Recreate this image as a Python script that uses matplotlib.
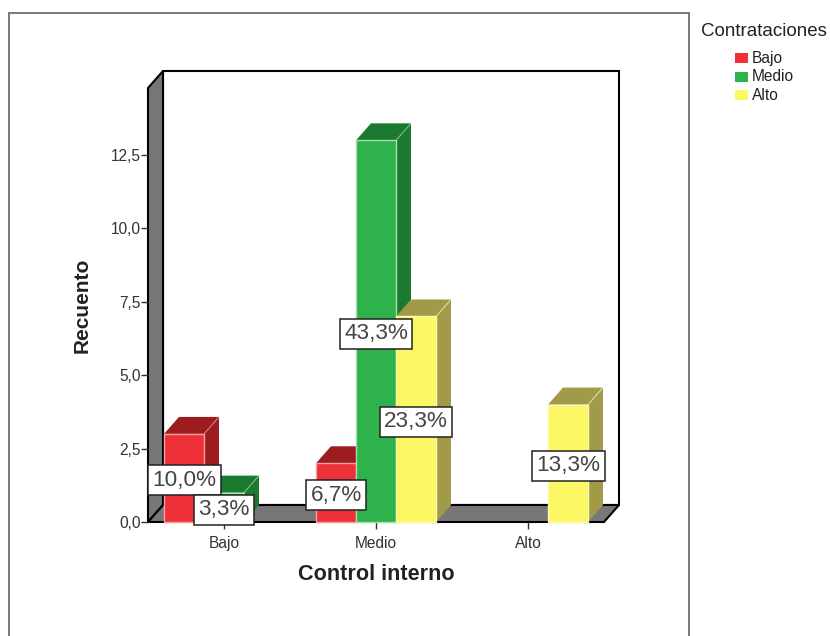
import matplotlib
matplotlib.use('Agg')
import matplotlib.pyplot as plt
from matplotlib.patches import Polygon, Rectangle

plt.rcParams['font.family'] = ['Liberation Sans', 'DejaVu Sans']

W, H = 830, 636

categories = ['Bajo', 'Medio', 'Alto']
series_names = ['Bajo', 'Medio', 'Alto']
bajo_counts = [3, 2, 0]
medio_counts = [1, 13, 0]
alto_counts = [0, 7, 4]
bajo_labels = ['10,0%', '6,7%', '']
medio_labels = ['3,3%', '43,3%', '']
alto_labels = ['', '23,3%', '13,3%']
y_ticks = [0, 2.5, 5, 7.5, 10, 12.5]
y_tick_labels = ['0,0', '2,5', '5,0', '7,5', '10,0', '12,5']

front = ['#EE3039', '#2EB24B', '#FBF765']
side = ['#9C1C20', '#1C7A30', '#A19B49']
top = ['#9C1C20', '#1C7A30', '#A19B49']
edge = ['#F7A0A0', '#A8E0AC', '#FDFBB0']

fig = plt.figure(figsize=(W / 100, H / 100), dpi=100, facecolor='white')
ax = fig.add_axes([148 / W, 1 - 522 / H, 456 / W, 434 / H])
ax.set_xlim(-0.5, 2.5)
ax.set_ylim(0, 434 / 29.36)
ax.patch.set_visible(False)
for s in ax.spines.values():
    s.set_visible(False)

# depth of the fake 3d box, in data units
dx = 15 / 152
dy = 17 / 29.36
ymax = ax.get_ylim()[1]


def poly(pts, fc, ec='none', lw=0, z=1):
    ax.add_patch(Polygon(pts, closed=True, fc=fc, ec=ec, lw=lw, zorder=z,
                         clip_on=False, joinstyle='miter'))


# outer frame, runs off the bottom of the figure
fig.add_artist(Rectangle((9 / W, -0.02), 680 / W, 1 - 13 / H + 0.02, fill=False,
                         ec='#6E6E6E', lw=1.3, transform=fig.transFigure))

# walls and floor
poly([(-0.5 + dx, dy), (-0.5 + dx, ymax + dy), (2.5 + dx, ymax + dy), (2.5 + dx, dy)],
     'white', 'black', 1.5, 1)
poly([(-0.5, 0), (-0.5, ymax), (-0.5 + dx, ymax + dy), (-0.5 + dx, dy)],
     '#777777', 'black', 1.5, 1)
poly([(-0.5, 0), (-0.5 + dx, dy), (2.5 + dx, dy), (2.5, 0)],
     '#777777', 'black', 1.5, 1)

bar_w = 40 / 152
values = [bajo_counts, medio_counts, alto_counts]
labels = [bajo_labels, medio_labels, alto_labels]

z = 2
for c in range(len(categories)):
    for k in range(3):
        v = values[k][c]
        if v == 0:
            continue
        x0 = c + (k - 1.5) * bar_w
        x1 = x0 + bar_w
        poly([(x1, 0), (x1 + dx, dy), (x1 + dx, v + dy), (x1, v)], side[k], z=z)
        poly([(x0, v), (x0 + dx, v + dy), (x1 + dx, v + dy), (x1, v)], top[k], z=z)
        poly([(x0, 0), (x0, v), (x1, v), (x1, 0)], front[k], edge[k], 1.0, z + 0.5)
        ax.plot([x1, x1 + dx], [v, v + dy], color=edge[k], lw=0.8, alpha=0.6,
                zorder=z + 0.6, clip_on=False)
        z += 1

# percentage boxes sit in the middle of each bar
for c in range(len(categories)):
    for k in range(3):
        if labels[k][c]:
            ax.text(c + (k - 1) * bar_w, values[k][c] / 2, labels[k][c], fontsize=16.2,
                    color='#444444', ha='center', va='center_baseline', zorder=50,
                    bbox=dict(boxstyle='square,pad=0.2', fc='white', ec='#222222', lw=1.1))

ax.set_xticks(range(len(categories)))
ax.set_xticklabels(categories, fontsize=11.2, color='#333333')
ax.set_yticks(y_ticks)
ax.set_yticklabels(y_tick_labels, fontsize=11.2, color='#333333')
ax.tick_params(axis='x', length=5, width=1, color='#333333', pad=5)
ax.tick_params(axis='y', length=5, width=1, color='#333333', pad=0)

fig.text(376 / W, 1 - 574 / H, 'Control interno', fontsize=15.6, fontweight='bold',
         color='#222222', ha='center', va='center')
fig.text(82 / W, 1 - 305 / H, 'Recuento', fontsize=15, fontweight='bold', rotation=90,
         color='#222222', ha='center', va='center')

# legend
fig.text(701 / W, 1 - 31 / H, 'Contrataciones', fontsize=13.5, color='#222222',
         ha='left', va='center')
for i, name in enumerate(series_names):
    yc = 58 + i * 18.5
    fig.add_artist(Rectangle((735 / W, 1 - (yc + 5) / H), 13 / W, 10 / H, fc=front[i],
                             ec='none', transform=fig.transFigure))
    fig.text(752 / W, 1 - yc / H, name, fontsize=11.2, color='#222222', ha='left', va='center')

fig.savefig('out.png', dpi=100)
